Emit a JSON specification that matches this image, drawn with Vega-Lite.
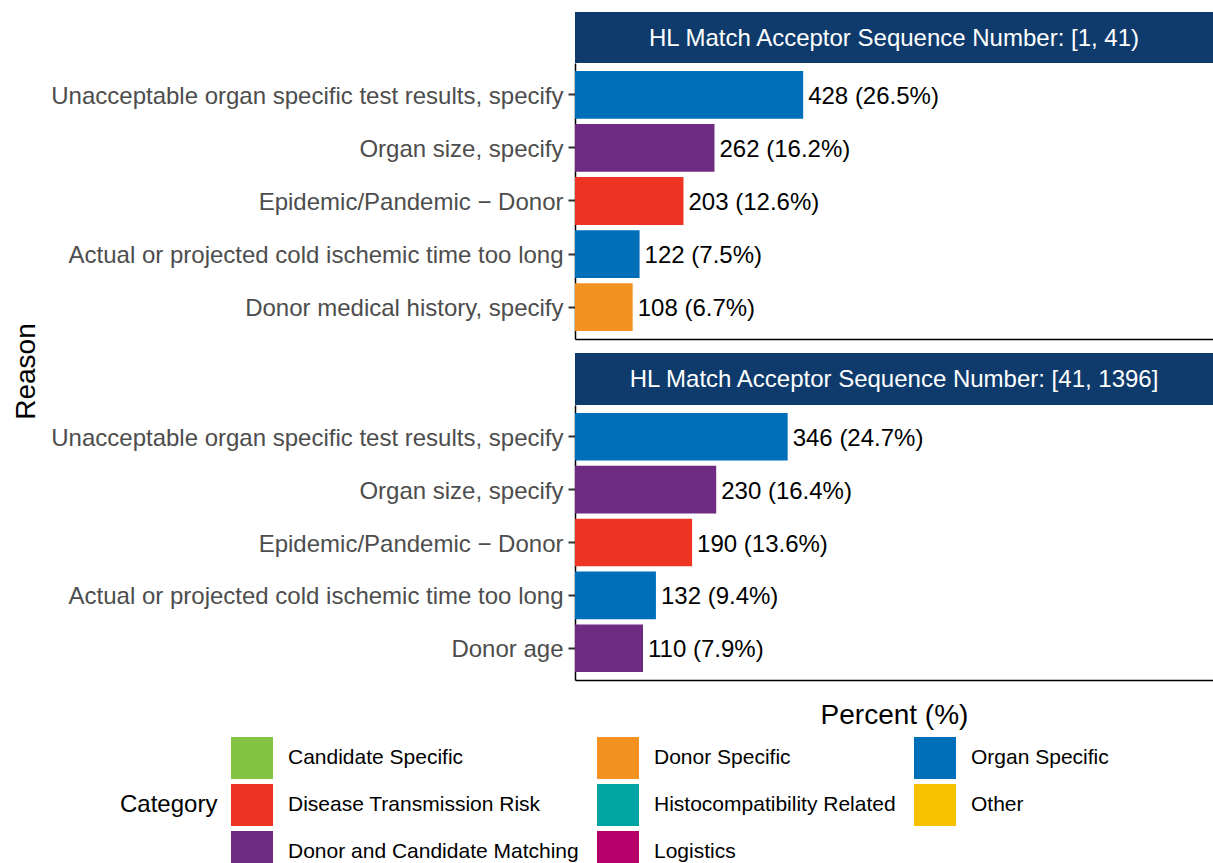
{
  "$schema": "https://vega.github.io/schema/vega-lite/v6.json",
  "padding": {"left": 12, "top": 12, "right": 0, "bottom": 0},
  "background": "white",
  "config": {
    "font": "Liberation Sans",
    "view": {"stroke": null},
    "axis": {"grid": false},
    "legend": {
      "symbolType": "square",
      "symbolSize": 1764,
      "symbolStrokeWidth": 0,
      "symbolOpacity": 1,
      "labelFontSize": 21,
      "labelColor": "black",
      "labelFont": "Liberation Sans",
      "labelLimit": 500,
      "labelOffset": 15,
      "titleFontSize": 24,
      "titleFontWeight": "normal",
      "titleColor": "black",
      "titleFont": "Liberation Sans",
      "rowPadding": 5,
      "columnPadding": 18,
      "titlePadding": 13
    }
  },
  "datasets": {
    "bars": [
      {"panel": "[1, 41)", "reason": "Unacceptable organ specific test results, specify", "category": "Organ Specific", "count": 428, "pct": 26.5, "label": "428 (26.5%)"},
      {"panel": "[1, 41)", "reason": "Organ size, specify", "category": "Donor and Candidate Matching", "count": 262, "pct": 16.2, "label": "262 (16.2%)"},
      {"panel": "[1, 41)", "reason": "Epidemic/Pandemic − Donor", "category": "Disease Transmission Risk", "count": 203, "pct": 12.6, "label": "203 (12.6%)"},
      {"panel": "[1, 41)", "reason": "Actual or projected cold ischemic time too long", "category": "Organ Specific", "count": 122, "pct": 7.5, "label": "122 (7.5%)"},
      {"panel": "[1, 41)", "reason": "Donor medical history, specify", "category": "Donor Specific", "count": 108, "pct": 6.7, "label": "108 (6.7%)"},
      {"panel": "[41, 1396]", "reason": "Unacceptable organ specific test results, specify", "category": "Organ Specific", "count": 346, "pct": 24.7, "label": "346 (24.7%)"},
      {"panel": "[41, 1396]", "reason": "Organ size, specify", "category": "Donor and Candidate Matching", "count": 230, "pct": 16.4, "label": "230 (16.4%)"},
      {"panel": "[41, 1396]", "reason": "Epidemic/Pandemic − Donor", "category": "Disease Transmission Risk", "count": 190, "pct": 13.6, "label": "190 (13.6%)"},
      {"panel": "[41, 1396]", "reason": "Actual or projected cold ischemic time too long", "category": "Organ Specific", "count": 132, "pct": 9.4, "label": "132 (9.4%)"},
      {"panel": "[41, 1396]", "reason": "Donor age", "category": "Donor and Candidate Matching", "count": 110, "pct": 7.9, "label": "110 (7.9%)"}
    ]
  },
  "resolve": {"scale": {"color": "shared"}},
  "bounds": "flush",
  "spacing": 0,
  "vconcat": [
    {
      "width": 638,
      "height": 51,
      "view": {"fill": "#0E3B6C", "stroke": null},
      "data": {"values": [{"header": "HL Match Acceptor Sequence Number: [1, 41)"}]},
      "mark": {"type": "text", "color": "white", "fontSize": 24, "align": "center", "baseline": "middle", "dy": 1, "font": "Liberation Sans"},
      "encoding": {"text": {"field": "header", "type": "nominal"}}
    },
    {
      "width": 638,
      "height": 276,
      "data": {"name": "bars"},
      "transform": [{"filter": "datum.panel === '[1, 41)'"}],
      "encoding": {
        "y": {
          "field": "reason", "type": "nominal",
          "sort": {"field": "pct", "order": "descending"},
          "scale": {"paddingInner": 0.1, "paddingOuter": 0.15},
          "axis": {
            "title": "Reason", "titleFontSize": 28, "titleFontWeight": "normal", "titleColor": "black",
            "titleY": 308, "titleX": -535,
            "labelFontSize": 24, "labelColor": "#4D4D4D", "labelLimit": 700, "labelPadding": 5, "labelOffset": 2,
            "tickSize": 7, "tickWidth": 2, "tickColor": "#333333",
            "domainColor": "black", "domainWidth": 1.5
          }
        },
        "x": {
          "field": "pct", "type": "quantitative",
          "scale": {"domain": [0, 74.1], "nice": false, "zero": true},
          "axis": {"title": null, "labels": false, "ticks": false, "domainColor": "black", "domainWidth": 1.5, "grid": false}
        }
      },
      "layer": [
        {
          "mark": {"type": "bar"},
          "encoding": {
            "color": {
              "field": "category", "type": "nominal",
              "scale": {
                "domain": ["Candidate Specific", "Disease Transmission Risk", "Donor and Candidate Matching", "Donor Specific", "Histocompatibility Related", "Logistics", "Organ Specific", "Other"],
                "range": ["#82C341", "#EE3524", "#6F2A81", "#F39220", "#00A5A3", "#B6006A", "#006FB9", "#F8C100"]
              },
              "legend": {"title": "Category", "orient": "none", "legendX": -455, "legendY": 725, "columns": 3, "titleOrient": "left", "titleAnchor": "middle", "titleBaseline": "middle"}
            }
          }
        },
        {
          "mark": {"type": "text", "align": "left", "baseline": "middle", "dx": 5, "dy": 2, "fontSize": 24, "color": "black", "font": "Liberation Sans"},
          "encoding": {"text": {"field": "label", "type": "nominal"}}
        }
      ]
    },
    {
      "width": 638,
      "height": 14,
      "data": {"values": [{"blank": ""}]},
      "mark": {"type": "text"},
      "encoding": {"text": {"field": "blank", "type": "nominal"}}
    },
    {
      "width": 638,
      "height": 52,
      "view": {"fill": "#0E3B6C", "stroke": null},
      "data": {"values": [{"header": "HL Match Acceptor Sequence Number: [41, 1396]"}]},
      "mark": {"type": "text", "color": "white", "fontSize": 24, "align": "center", "baseline": "middle", "dy": 1, "font": "Liberation Sans"},
      "encoding": {"text": {"field": "header", "type": "nominal"}}
    },
    {
      "width": 638,
      "height": 275,
      "data": {"name": "bars"},
      "transform": [{"filter": "datum.panel === '[41, 1396]'"}],
      "encoding": {
        "y": {
          "field": "reason", "type": "nominal",
          "sort": {"field": "pct", "order": "descending"},
          "scale": {"paddingInner": 0.1, "paddingOuter": 0.15},
          "axis": {
            "title": null,
            "labelFontSize": 24, "labelColor": "#4D4D4D", "labelLimit": 700, "labelPadding": 5, "labelOffset": 2,
            "tickSize": 7, "tickWidth": 2, "tickColor": "#333333",
            "domainColor": "black", "domainWidth": 1.5
          }
        },
        "x": {
          "field": "pct", "type": "quantitative",
          "scale": {"domain": [0, 74.1], "nice": false, "zero": true},
          "axis": {"title": "Percent (%)", "titleFontSize": 28, "titleFontWeight": "normal", "titleColor": "black", "titlePadding": 21, "labels": false, "ticks": false, "domainColor": "black", "domainWidth": 1.5, "grid": false}
        }
      },
      "layer": [
        {
          "mark": {"type": "bar"},
          "encoding": {
            "color": {
              "field": "category", "type": "nominal",
              "scale": {
                "domain": ["Candidate Specific", "Disease Transmission Risk", "Donor and Candidate Matching", "Donor Specific", "Histocompatibility Related", "Logistics", "Organ Specific", "Other"],
                "range": ["#82C341", "#EE3524", "#6F2A81", "#F39220", "#00A5A3", "#B6006A", "#006FB9", "#F8C100"]
              },
              "legend": {"title": "Category", "orient": "none", "legendX": -455, "legendY": 725, "columns": 3, "titleOrient": "left", "titleAnchor": "middle", "titleBaseline": "middle"}
            }
          }
        },
        {
          "mark": {"type": "text", "align": "left", "baseline": "middle", "dx": 5, "dy": 2, "fontSize": 24, "color": "black", "font": "Liberation Sans"},
          "encoding": {"text": {"field": "label", "type": "nominal"}}
        }
      ]
    }
  ]
}
